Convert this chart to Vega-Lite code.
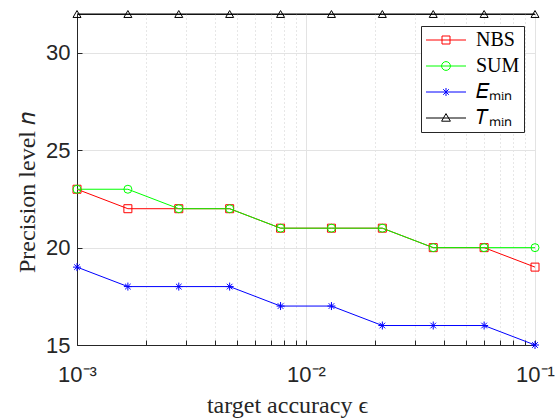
{
  "$schema": "https://vega.github.io/schema/vega-lite/v6.json",
  "width": 458,
  "height": 331,
  "autosize": "none",
  "padding": {"left": 77, "top": 14, "right": 20, "bottom": 74},
  "config": {
    "view": {"stroke": "#262626", "strokeWidth": 1},
    "font": "Liberation Sans"
  },
  "data": {
    "values": [
      {"series": "NBS", "eps": 0.001, "n": 23},
      {"series": "NBS", "eps": 0.0016681, "n": 22},
      {"series": "NBS", "eps": 0.0027826, "n": 22},
      {"series": "NBS", "eps": 0.0046416, "n": 22},
      {"series": "NBS", "eps": 0.0077426, "n": 21},
      {"series": "NBS", "eps": 0.0129155, "n": 21},
      {"series": "NBS", "eps": 0.0215443, "n": 21},
      {"series": "NBS", "eps": 0.0359381, "n": 20},
      {"series": "NBS", "eps": 0.0599484, "n": 20},
      {"series": "NBS", "eps": 0.1, "n": 19},
      {"series": "SUM", "eps": 0.001, "n": 23},
      {"series": "SUM", "eps": 0.0016681, "n": 23},
      {"series": "SUM", "eps": 0.0027826, "n": 22},
      {"series": "SUM", "eps": 0.0046416, "n": 22},
      {"series": "SUM", "eps": 0.0077426, "n": 21},
      {"series": "SUM", "eps": 0.0129155, "n": 21},
      {"series": "SUM", "eps": 0.0215443, "n": 21},
      {"series": "SUM", "eps": 0.0359381, "n": 20},
      {"series": "SUM", "eps": 0.0599484, "n": 20},
      {"series": "SUM", "eps": 0.1, "n": 20},
      {"series": "Emin", "eps": 0.001, "n": 19},
      {"series": "Emin", "eps": 0.0016681, "n": 18},
      {"series": "Emin", "eps": 0.0027826, "n": 18},
      {"series": "Emin", "eps": 0.0046416, "n": 18},
      {"series": "Emin", "eps": 0.0077426, "n": 17},
      {"series": "Emin", "eps": 0.0129155, "n": 17},
      {"series": "Emin", "eps": 0.0215443, "n": 16},
      {"series": "Emin", "eps": 0.0359381, "n": 16},
      {"series": "Emin", "eps": 0.0599484, "n": 16},
      {"series": "Emin", "eps": 0.1, "n": 15},
      {"series": "Tmin", "eps": 0.001, "n": 32},
      {"series": "Tmin", "eps": 0.0016681, "n": 32},
      {"series": "Tmin", "eps": 0.0027826, "n": 32},
      {"series": "Tmin", "eps": 0.0046416, "n": 32},
      {"series": "Tmin", "eps": 0.0077426, "n": 32},
      {"series": "Tmin", "eps": 0.0129155, "n": 32},
      {"series": "Tmin", "eps": 0.0215443, "n": 32},
      {"series": "Tmin", "eps": 0.0359381, "n": 32},
      {"series": "Tmin", "eps": 0.0599484, "n": 32},
      {"series": "Tmin", "eps": 0.1, "n": 32}
    ]
  },
  "encoding": {
    "x": {
      "field": "eps",
      "type": "quantitative",
      "scale": {"type": "log", "domain": [0.001, 0.1], "nice": false},
      "axis": {
        "title": "target accuracy ϵ",
        "titleFont": "Liberation Serif",
        "titleFontSize": 24,
        "titleFontWeight": "normal",
        "titleColor": "#262626",
        "titlePadding": 8,
        "titleX": 210,
        "values": [0.001, 0.002, 0.003, 0.004, 0.005, 0.006, 0.007, 0.008, 0.009, 0.01, 0.02, 0.03, 0.04, 0.05, 0.06, 0.07, 0.08, 0.09, 0.1],
        "labelExpr": "datum.value < 0.0015 ? '10⁻³' : (abs(datum.value - 0.01) < 0.0001 ? '10⁻²' : (datum.value > 0.095 ? '10⁻¹' : ''))",
        "labelFontSize": 22,
        "labelColor": "#262626",
        "labelPadding": 24,
        "labelFlush": false,
        "domainColor": "#262626",
        "tickColor": "#262626",
        "tickSize": -5,
        "grid": true,
        "gridColor": {"condition": {"test": "abs(log(datum.value)/LN10 - round(log(datum.value)/LN10)) > 0.01", "value": "#cfcfcf"}, "value": "#e3e3e3"},
        "gridDash": {"condition": {"test": "abs(log(datum.value)/LN10 - round(log(datum.value)/LN10)) > 0.01", "value": [1, 3]}, "value": []}
      }
    },
    "y": {
      "field": "n",
      "type": "quantitative",
      "scale": {"domain": [15, 32], "nice": false, "zero": false},
      "axis": {
        "title": "Precision level 𝑛",
        "titleFont": "Liberation Serif",
        "titleFontSize": 24,
        "titleFontWeight": "normal",
        "titleColor": "#262626",
        "titlePadding": 6,
        "titleY": 178,
        "values": [15, 20, 25, 30],
        "labelFontSize": 22,
        "labelColor": "#262626",
        "labelPadding": 12,
        "domainColor": "#262626",
        "tickColor": "#262626",
        "tickSize": -5,
        "grid": true,
        "gridColor": "#e3e3e3"
      }
    },
    "color": {
      "field": "series",
      "type": "nominal",
      "scale": {"domain": ["NBS", "SUM", "Emin", "Tmin"], "range": ["#ff0000", "#00ff00", "#0000ff", "#000000"]},
      "legend": {
        "title": null,
        "orient": "none",
        "legendX": 344,
        "legendY": 12,
        "strokeColor": "#262626",
        "fillColor": "white",
        "padding": 4,
        "symbolSize": 64,
        "symbolStrokeWidth": 1,
        "symbolOffset": 11,
        "labelOffset": 20,
        "labelFont": "Liberation Serif",
        "labelFontSize": 20,
        "labelColor": "#000000",
        "rowPadding": 6,
        "labelExpr": "datum.value == 'Emin' ? '𝐸ₘᵢₙ' : (datum.value == 'Tmin' ? '𝑇ₘᵢₙ' : datum.value)",
        "encode": {
          "symbols": {
            "update": {
              "shape": {"signal": "datum.value == 'NBS' ? 'M-5,0H5M-1,-1H1V1H-1Z' : (datum.value == 'SUM' ? 'M-5,0H5M1.1,0A1.1,1.1,0,1,1,-1.1,0A1.1,1.1,0,1,1,1.1,0Z' : (datum.value == 'Emin' ? 'M-5,0H5M0,-1V1M-0.7,-0.7L0.7,0.7M-0.7,0.7L0.7,-0.7' : 'M-5,0H5M0,-1.1L1.1,0.8H-1.1Z'))"},
              "stroke": {"signal": "datum.value == 'NBS' ? '#ff0000' : (datum.value == 'SUM' ? '#00ff00' : (datum.value == 'Emin' ? '#0000ff' : '#000000'))"},
              "fill": {"value": "transparent"}
            }
          }
        }
      }
    }
  },
  "layer": [
    {
      "mark": {"type": "line", "strokeWidth": 1, "clip": false}
    },
    {
      "transform": [{"filter": "datum.series == 'NBS'"}],
      "mark": {"type": "point", "shape": "square", "filled": false, "size": 64, "strokeWidth": 1, "opacity": 1, "clip": false}
    },
    {
      "transform": [{"filter": "datum.series == 'SUM'"}],
      "mark": {"type": "point", "shape": "circle", "filled": false, "size": 64, "strokeWidth": 1, "opacity": 1, "clip": false}
    },
    {
      "transform": [{"filter": "datum.series == 'Emin'"}],
      "mark": {"type": "point", "shape": "M-1,0H1M0,-1V1M-0.7,-0.7L0.7,0.7M-0.7,0.7L0.7,-0.7", "filled": false, "size": 64, "strokeWidth": 1, "opacity": 1, "clip": false}
    },
    {
      "transform": [{"filter": "datum.series == 'Tmin'"}],
      "mark": {"type": "point", "shape": "triangle-up", "filled": false, "size": 64, "strokeWidth": 1, "opacity": 1, "clip": false}
    }
  ]
}
